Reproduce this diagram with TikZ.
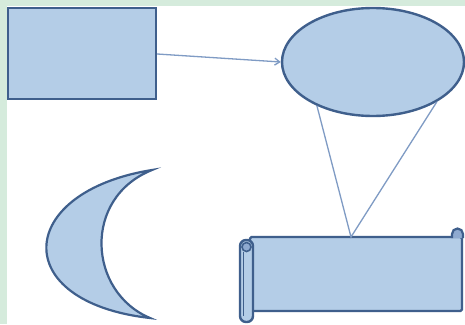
\documentclass[tikz,border=0pt]{standalone}
\usetikzlibrary{shapes.geometric,arrows.meta}
\definecolor{shfill}{HTML}{B4CDE7}
\definecolor{shdraw}{HTML}{3F5F8C}
\definecolor{lnk}{HTML}{7F9BC4}
\definecolor{bggreen}{HTML}{D5EBDC}
\definecolor{curl}{HTML}{8FAAD0}
\tikzset{
  shp/.style={draw=shdraw, fill=shfill, line width=2.4pt, inner sep=0pt},
  link/.style={draw=lnk, line width=1.3pt},
}
\begin{document}
\begin{tikzpicture}[x=1pt,y=-1pt]
\useasboundingbox (0,0) rectangle (465,324);
\fill[bggreen] (0,0) rectangle (465,324);
\fill[white] (7,6) rectangle (465,324);
% rectangle
\node[shp, rectangle, minimum width=148pt, minimum height=91pt] (rect) at (82,53.5) {};
% ellipse
\node[shp, ellipse, minimum width=182pt, minimum height=108pt] (ell) at (373,62) {};
% scroll body
\node[shp, rectangle, rounded corners=1.5pt, minimum width=212pt, minimum height=74pt] (scroll) at (356,274) {};
% top-right curl
\filldraw[draw=shdraw, fill=curl, line width=2.2pt] (452,238) -- (452,234) arc[start angle=180, end angle=360, radius=5.5] -- (463,238);
% left roll
\draw[shp, rounded corners=6pt] (240,240) rectangle (253,322);
\filldraw[draw=shdraw, fill=curl, line width=1.6pt] (246.5,247) circle[radius=4.5];
\draw[draw=shdraw, line width=1.2pt] (243.5,252) -- (243.5,316);
% moon
\draw[shp, line width=2.2pt] (152,170) .. controls (15,192) and (8,302) .. (150,318)
  .. controls (88,292) and (82,198) .. (152,170) -- cycle;
% connectors
\coordinate (apex) at (351,237);
\draw[link, -{Straight Barb[length=5pt,width=7pt]}] (rect.east |- 0,54) -- (ell.west);
\draw[link] (ell.-142) -- (apex) -- (ell.-32);
\end{tikzpicture}
\end{document}
